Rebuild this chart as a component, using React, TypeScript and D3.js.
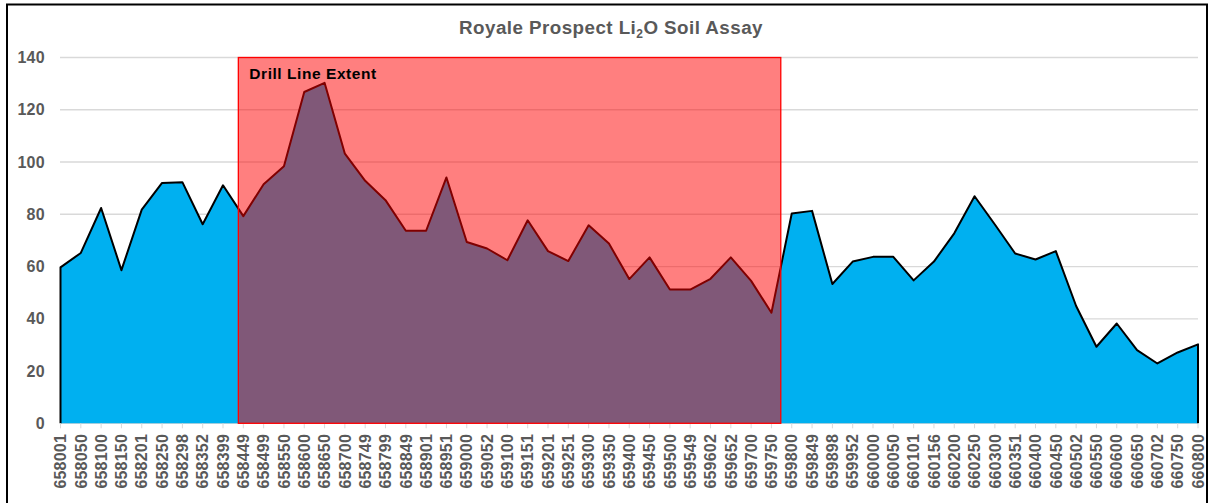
import React from "react";
import * as d3 from "d3";

const categories: string[] = [
  "658001", "658050", "658100", "658150", "658201", "658250", "658298", "658352", "658399", "658449",
  "658499", "658550", "658600", "658650", "658700", "658749", "658799", "658849", "658901", "658951",
  "659000", "659052", "659100", "659151", "659201", "659251", "659300", "659350", "659400", "659450",
  "659500", "659549", "659602", "659652", "659700", "659750", "659800", "659849", "659898", "659952",
  "660000", "660050", "660101", "660156", "660200", "660250", "660300", "660351", "660400", "660450",
  "660502", "660550", "660600", "660650", "660702", "660750", "660800",
];

const li2oValues: number[] = [
  59.7, 65.2, 82.4, 58.6, 81.8, 92.0, 92.3, 76.2, 91.1, 79.3,
  91.5, 98.4, 126.8, 130.3, 103.2, 92.8, 85.4, 73.7, 73.7, 94.1,
  69.4, 66.9, 62.4, 77.7, 65.9, 62.1, 75.8, 68.8, 55.2, 63.5,
  51.2, 51.2, 55.3, 63.5, 54.5, 42.3, 80.3, 81.3, 53.3, 61.9,
  63.7, 63.7, 54.7, 61.9, 72.7, 86.9, 76.1, 65.0, 62.7, 65.9,
  44.9, 29.3, 38.2, 28.0, 22.9, 27.1, 30.2,
];

const yTicks: number[] = [0, 20, 40, 60, 80, 100, 120, 140];
// drill line extent, in category-index units, and its height
const drillExtent: number[] = [8.755, 35.46];
const drillTop = 140;
const drillLabel = "Drill Line Extent";

const W = 1213;
const H = 503;
const FONT = "'Liberation Sans', Arial, sans-serif";
const GRAY = "#595959";

export default function App() {
  const x = d3.scalePoint<string>().domain(categories).range([60.5, 1198]);
  const step = x.step();
  const xi = (i: number) => (x(categories[0]) as number) + i * step;
  const y = d3.scaleLinear().domain([0, 140]).range([423.3, 57.5]);

  const pts: [number, number][] = li2oValues.map((v, i) => [x(categories[i]) as number, y(v)]);
  const area = d3
    .area<[number, number]>()
    .x((d) => d[0])
    .y0(y(0))
    .y1((d) => d[1]);
  const outline = d3.line()([
    [pts[0][0], y(0)],
    ...pts,
    [pts[pts.length - 1][0], y(0)],
  ]);

  const rx0 = xi(drillExtent[0]);
  const rx1 = xi(drillExtent[1]);

  return (
    <svg
      width={W}
      height={H}
      style={{ position: "absolute", left: 0, top: 0, background: "#fff" }}
      fontFamily={FONT}
    >
      <rect x={7} y={4.5} width={1200} height={510} fill="#fff" stroke="#000" strokeWidth={2} />
      <text
        x={611}
        y={34}
        textAnchor="middle"
        fontSize={18.8}
        fontWeight={700}
        letterSpacing={0.45}
        fill={GRAY}
      >
        Royale Prospect Li
        <tspan fontSize={12} dy={4}>2</tspan>
        <tspan dy={-4}>O Soil Assay</tspan>
      </text>

      {yTicks.map((t) => (
        <g key={t}>
          <line x1={60} x2={1198} y1={y(t)} y2={y(t)} stroke="#d9d9d9" strokeWidth={1.3} />
          <text
            x={45}
            y={y(t) + 5.5}
            textAnchor="end"
            fontSize={16}
            fontWeight={700}
            letterSpacing={0.3}
            fill={GRAY}
          >
            {t}
          </text>
        </g>
      ))}

      <path d={area(pts) || ""} fill="#00B0F0" />
      <path d={outline || ""} fill="none" stroke="#000" strokeWidth={2} strokeLinejoin="round" />

      {categories.map((c) => {
        const cx = x(c) as number;
        return (
          <g key={c}>
            <line x1={cx} x2={cx} y1={y(0)} y2={y(0) + 5} stroke="#d9d9d9" strokeWidth={1} />
            <text
              transform={`translate(${cx + 5.7},${434}) rotate(-90)`}
              textAnchor="end"
              fontSize={16}
              fontWeight={700}
              letterSpacing={0.2}
              fill={GRAY}
            >
              {c}
            </text>
          </g>
        );
      })}

      <rect
        x={rx0}
        y={y(drillTop)}
        width={rx1 - rx0}
        height={y(0) - y(drillTop)}
        fill="#FF0000"
        fillOpacity={0.5}
        stroke="#FF0000"
        strokeWidth={1.3}
      />
      <text x={rx0 + 11} y={79} fontSize={15.5} fontWeight={700} letterSpacing={0.55} fill="#000">
        {drillLabel}
      </text>
    </svg>
  );
}
